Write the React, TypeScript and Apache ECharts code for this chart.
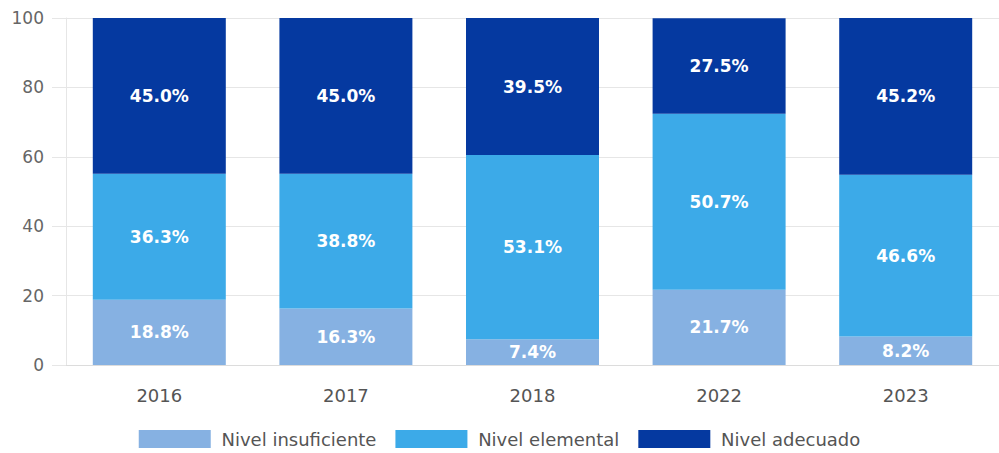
import React, { useEffect, useRef } from "react";
import * as echarts from "echarts";

const categories = ["2016", "2017", "2018", "2022", "2023"];
const seriesNames = ["Nivel insuficiente", "Nivel elemental", "Nivel adecuado"];
const insuficiente = [18.8, 16.3, 7.4, 21.7, 8.2];
const elemental = [36.3, 38.8, 53.1, 50.7, 46.6];
const adecuado = [45.0, 45.0, 39.5, 27.5, 45.2];
const yTicks = [0, 20, 40, 60, 80, 100];
const colors = ["#86b1e2", "#3caae8", "#0539a0"];

const FONT = "DejaVu Sans";

export default function App() {
  const ref = useRef<HTMLDivElement>(null);
  useEffect(() => {
    document.body.style.margin = "0";
    if (!ref.current) return;
    const chart = echarts.init(ref.current, undefined, { renderer: "svg" });
    const data = [insuficiente, elemental, adecuado];
    chart.setOption({
      animation: false,
      grid: { left: 66, right: 0, top: 18, bottom: 88 },
      legend: {
        top: 425,
        left: "center",
        itemWidth: 72,
        itemHeight: 18,
        itemGap: 19,
        icon: "rect",
        formatter: (n: string) => " " + n,
        textStyle: { fontSize: 18, color: "#555", fontFamily: FONT },
        data: seriesNames,
      },
      xAxis: {
        type: "category",
        data: categories,
        axisLine: { show: true, lineStyle: { color: "#dcdcdc" } },
        axisTick: { show: false },
        axisLabel: { fontSize: 18, color: "#555", margin: 21, fontFamily: FONT },
      },
      yAxis: {
        type: "value",
        min: yTicks[0],
        max: yTicks[yTicks.length - 1],
        interval: yTicks[1] - yTicks[0],
        axisLine: { show: true, lineStyle: { color: "#e6e6e6" } },
        axisTick: { show: true, length: 14, lineStyle: { color: "#e6e6e6" } },
        splitLine: { lineStyle: { color: "#e6e6e6" } },
        axisLabel: { fontSize: 17, color: "#666", margin: 22, fontFamily: FONT },
      },
      series: seriesNames.map((name, i) => ({
        name,
        type: "bar",
        stack: "total",
        barWidth: 133,
        data: data[i],
        itemStyle: { color: colors[i] },
        label: {
          show: true,
          position: "inside",
          color: "#fff",
          fontWeight: "bold",
          fontSize: 17,
          fontFamily: FONT,
          formatter: (p: any) => Number(p.value).toFixed(1) + "%",
        },
      })),
    });
    return () => chart.dispose();
  }, []);
  return <div ref={ref} style={{ width: 999, height: 453 }} />;
}
